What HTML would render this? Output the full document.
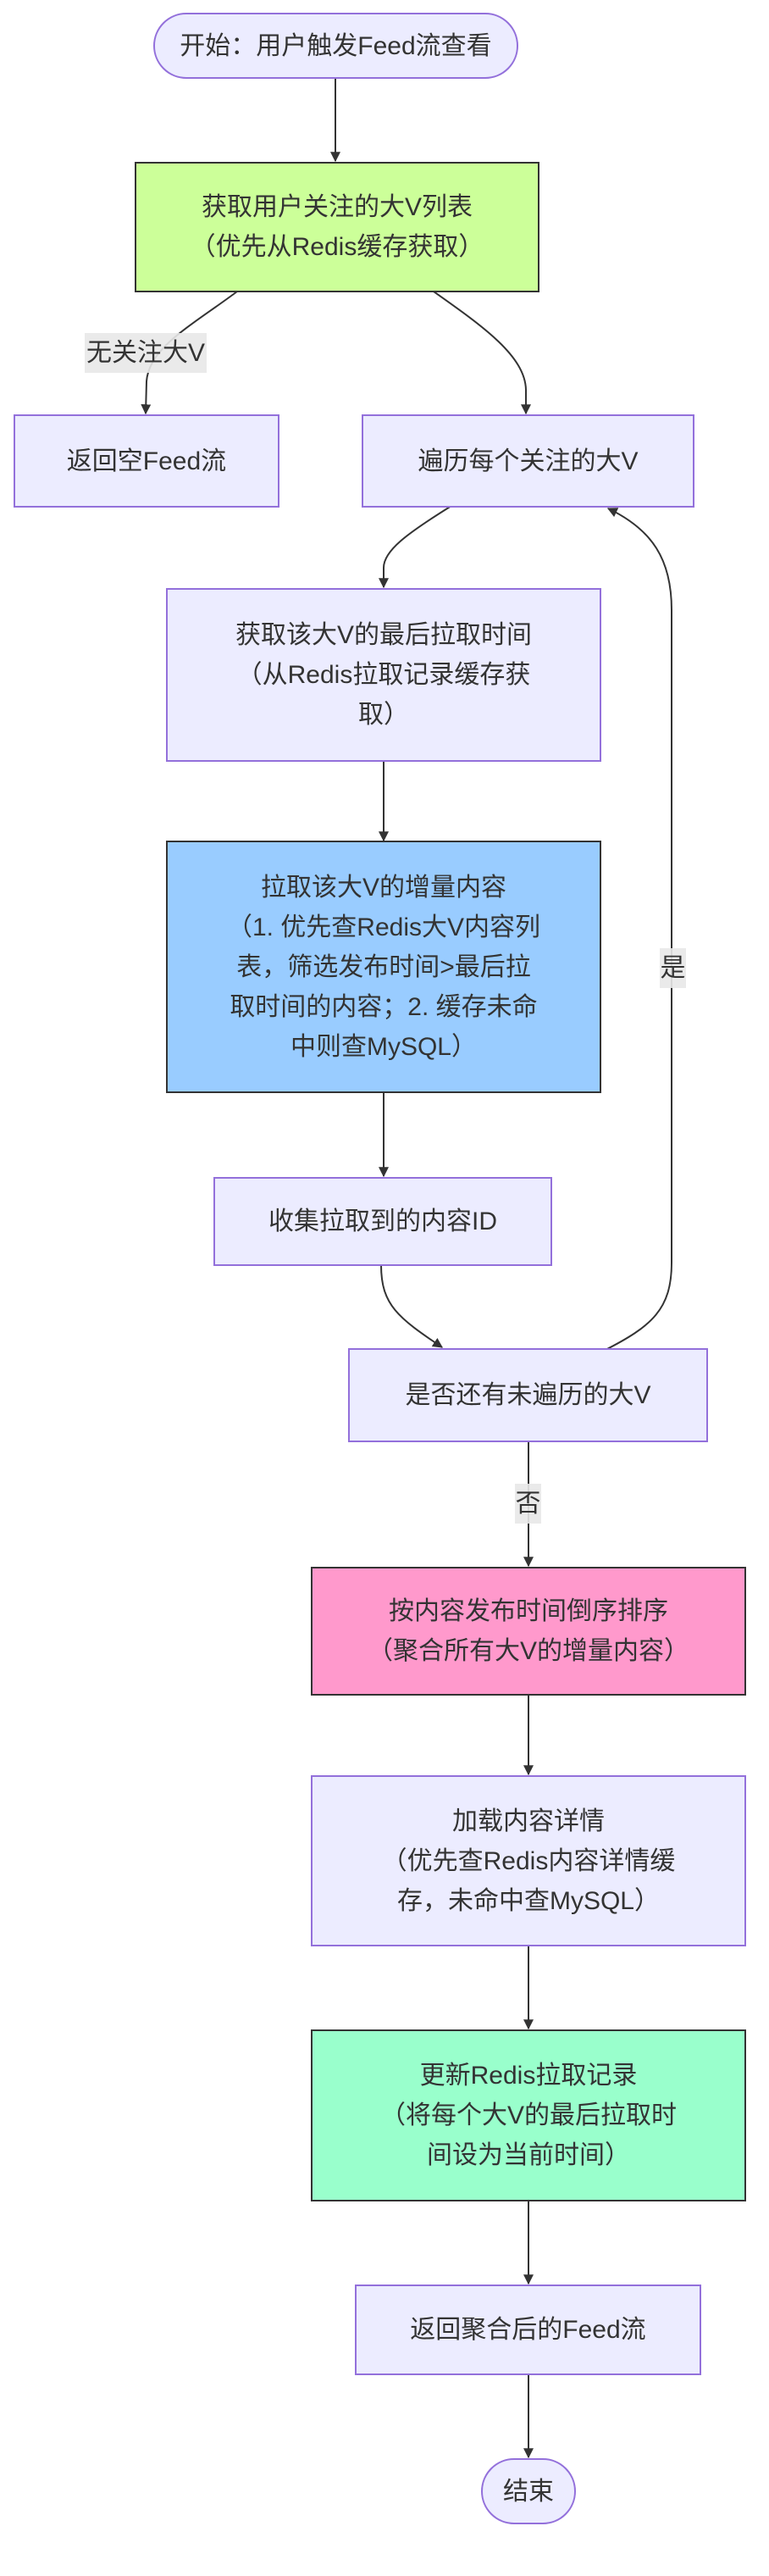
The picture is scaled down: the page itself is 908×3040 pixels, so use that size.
<!DOCTYPE html>
<html><head><meta charset="utf-8"><style>
html,body{margin:0;padding:0;background:#fff;}
body{width:908px;height:3040px;position:relative;overflow:hidden;font-family:"Liberation Sans","Noto Sans CJK SC",sans-serif;color:#333;}
.n{position:absolute;box-sizing:border-box;display:flex;align-items:center;justify-content:center;text-align:center;font-size:30px;line-height:47px;border:2px solid #9370DB;background:#ECECFF;}
.d{border-color:#333;}
.l{position:absolute;background:rgba(232,232,232,0.9);font-size:30px;line-height:47px;text-align:center;}
svg{position:absolute;left:0;top:0;}
</style></head><body>
<svg width="908" height="3040">
<defs><marker id="a" viewBox="0 0 10 10" refX="9" refY="5" markerWidth="12" markerHeight="12" markerUnits="userSpaceOnUse" orient="auto"><path d="M0,0L10,5L0,10z" fill="#333"/></marker></defs>
<g fill="none" stroke="#333" stroke-width="2" marker-end="url(#a)">
<path d="M396,93L396,190"/>
<path d="M280,344C225,385 176,410 173,450L172,488"/>
<path d="M512,344C570,385 620,420 621,460L621,488"/>
<path d="M533,597C480,630 453,650 453,670L453,693"/>
<path d="M453,899L453,992"/>
<path d="M453,1290L453,1388"/>
<path d="M450,1493C450,1540 470,1555 522,1590"/>
<path d="M713,1594C770,1565 793,1545 793,1490L793,720C793,660 770,625 718,600"/>
<path d="M624,1702L624,1848"/>
<path d="M624,2001L624,2094"/>
<path d="M624,2297L624,2394"/>
<path d="M624,2598L624,2695"/>
<path d="M624,2803L624,2900"/>
</g>
</svg>
<div class="n" style="left:181px;top:15px;width:431px;height:78px;border-radius:39px;">开始：用户触发Feed流查看</div>
<div class="n d" style="left:159px;top:191px;width:478px;height:154px;background:#ccff99;">获取用户关注的大V列表<br>（优先从Redis缓存获取）</div>
<div class="l" style="left:100px;top:393px;width:144px;height:47px;">无关注大V</div>
<div class="n" style="left:16px;top:489px;width:314px;height:110px;">返回空Feed流</div>
<div class="n" style="left:427px;top:489px;width:393px;height:110px;">遍历每个关注的大V</div>
<div class="n" style="left:196px;top:694px;width:514px;height:205px;">获取该大V的最后拉取时间<br>（从Redis拉取记录缓存获<br>取）</div>
<div class="n d" style="left:196px;top:992px;width:514px;height:298px;background:#99ccff;">拉取该大V的增量内容<br>（1. 优先查Redis大V内容列<br>表，筛选发布时间&gt;最后拉<br>取时间的内容；2. 缓存未命<br>中则查MySQL）</div>
<div class="l" style="left:779px;top:1119px;width:31px;height:47px;">是</div>
<div class="n" style="left:252px;top:1389px;width:400px;height:105px;">收集拉取到的内容ID</div>
<div class="n" style="left:411px;top:1591px;width:425px;height:111px;">是否还有未遍历的大V</div>
<div class="l" style="left:608px;top:1751px;width:31px;height:47px;">否</div>
<div class="n d" style="left:367px;top:1849px;width:514px;height:152px;background:#ff99cc;">按内容发布时间倒序排序<br>（聚合所有大V的增量内容）</div>
<div class="n" style="left:367px;top:2095px;width:514px;height:202px;">加载内容详情<br>（优先查Redis内容详情缓<br>存，未命中查MySQL）</div>
<div class="n d" style="left:367px;top:2395px;width:514px;height:203px;background:#99ffcc;">更新Redis拉取记录<br>（将每个大V的最后拉取时<br>间设为当前时间）</div>
<div class="n" style="left:419px;top:2696px;width:409px;height:107px;">返回聚合后的Feed流</div>
<div class="n" style="left:568px;top:2901px;width:112px;height:78px;border-radius:39px;">结束</div>
</body></html>
